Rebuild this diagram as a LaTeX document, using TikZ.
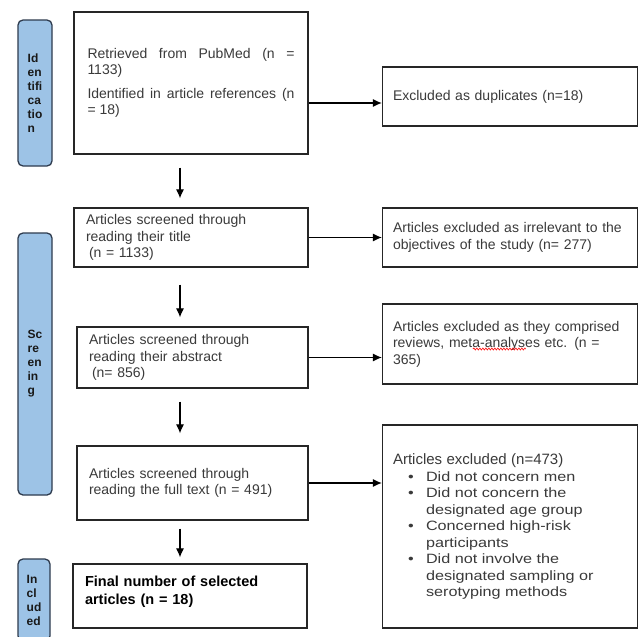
\documentclass[tikz,border=0pt]{standalone}
\usepackage{fontspec}
\setmainfont{Liberation Sans}
\newfontfamily\listfont[FakeStretch=1.2]{Liberation Sans}
\usetikzlibrary{arrows.meta,decorations.pathmorphing}
\definecolor{sidefill}{HTML}{9DC3E6}
\definecolor{sideline}{HTML}{2E3B4E}
\definecolor{txt}{HTML}{3A3A3A}
\newcommand{\bul}{\hspace*{15pt}\makebox[18pt][l]{\textbullet}}
\newcommand{\ind}{\hspace*{33pt}}

\begin{document}
\begin{tikzpicture}[x=1pt,y=-1pt,every node/.style={inner sep=0pt}]
\tikzstyle{side}=[draw=sideline,fill=sidefill,line width=1.3pt,rounded corners=5pt,minimum width=34pt,align=left,text=black!90,font=\fontsize{12}{14}\selectfont\bfseries]
\tikzstyle{box}=[draw=black!85,line width=1.2pt,inner xsep=12pt,align=left,text=txt,font={\fontsize{14}{16.5}\selectfont\tolerance=9999\hyphenpenalty=10000}]
\tikzstyle{ebox}=[box,inner xsep=10.5pt,text width=234pt]
\tikzstyle{arrow}=[draw,line width=1.1pt,-{Latex[length=9pt,width=8pt]}]
\tikzstyle{vshort}=[shorten <=13pt,shorten >=9pt]

\useasboundingbox (0,0) rectangle (643,637);
\fill[white] (0,0) rectangle (643,637);
\clip (0,0) rectangle (643,637);

% phases
\node[side,minimum height=146pt](s1) at (35,93){Id\\en\\tifi\\ca\\tio\\n};
\node[side,minimum height=262pt](s2) at (35,364){Sc\\re\\en\\in\\g};
\node[side,minimum height=82pt,minimum width=32pt](s3) at (34,600){In\\cl\\ud\\ed};

% main column
\node[box,text width=207pt,inner xsep=13.5pt,minimum height=142pt,align=justify](b1) at (191,83){Retrieved from PubMed (n = 1133)\\[7pt]Identified in article references (n =~18)};
\node[box,text width=210pt,minimum height=59pt](b2) at (191,237.5){Articles screened through\\reading their title\\\hspace*{3pt}(n = 1133)};
\node[box,text width=207pt,minimum height=61pt](b3) at (192.5,357.5){Articles screened through\\reading their abstract\\\hspace*{3pt}(n= 856)};
\node[box,text width=207pt,minimum height=74pt](b4) at (192.5,483){Articles screened through\\reading the full text (n = 491)};
\node[box,text width=210pt,minimum height=64pt,inner xsep=12pt,text=black,font=\fontsize{14.5}{17.5}\selectfont\bfseries](b5) at (190,596){Final number of selected\\articles (n = 18)\\[-6pt]\mbox{}};

% exclusions
\node[ebox,minimum height=59pt](e1) at (510,96.5){Excluded as duplicates (n=18)};
\node[ebox,minimum height=59pt](e2) at (510,237.5){Articles excluded as irrelevant to the\\objectives of the study (n= 277)};
\node[ebox,minimum height=80pt](e3) at (510,344){Articles excluded as they comprised\\reviews, meta-analyses etc. (n =\\365)};
\node[ebox,minimum height=203pt,font=\listfont\fontsize{13.5}{16.5}\selectfont](e4) at (510,526.5){{\normalfont\fontsize{15}{16.5}\selectfont Articles excluded (n=473)}\\
\bul Did not concern men\\
\bul Did not concern the\\
\ind designated age group\\
\bul Concerned high-risk\\
\ind participants\\
\bul Did not involve the\\
\ind designated sampling or\\
\ind serotyping methods};

% spelling mark
\draw[red,line width=0.6pt,decorate,decoration={snake,amplitude=1pt,segment length=3pt}] ([xshift=91pt,yshift=-5pt]e3.west) -- ([xshift=144pt,yshift=-5pt]e3.west);

\coordinate (ax) at (180,0);
\draw[arrow,vshort] (b1.south -| ax) -- (b2.north -| ax);
\draw[arrow,vshort,shorten <=17pt] (b2.south -| ax) -- (b3.north -| ax);
\draw[arrow,vshort,shorten >=12pt] (b3.south -| ax) -- (b4.north -| ax);
\draw[arrow,shorten <=8pt,shorten >=6pt] (b4.south -| ax) -- (b5.north -| ax);

\draw[arrow] ([yshift=-20pt]b1.east) -- ([yshift=-20pt]b1.east -| e1.west);
\draw[arrow] (b2.east) -- (b2.east -| e2.west);
\draw[arrow] (b3.east) -- (b3.east -| e3.west);
\draw[arrow] (b4.east) -- (b4.east -| e4.west);
\end{tikzpicture}
\end{document}
